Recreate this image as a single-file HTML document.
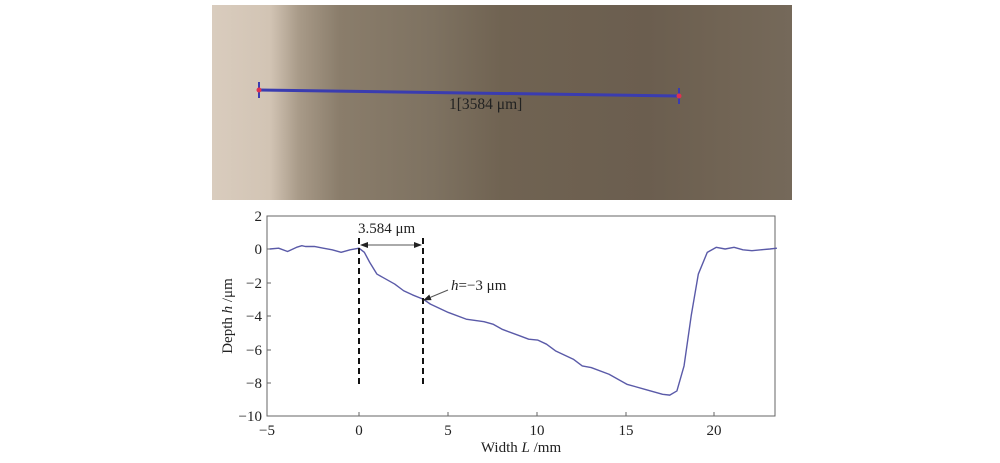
<!DOCTYPE html>
<html><head><style>
body{margin:0;background:#fff;}
svg text{font-family:"Liberation Serif",serif;fill:#222;}
</style></head><body>
<svg width="1000" height="458" xmlns="http://www.w3.org/2000/svg">
<defs>
<linearGradient id="g" x1="0" x2="1" y1="0" y2="0">
<stop offset="0" stop-color="#d9ccbe"/>
<stop offset="0.1" stop-color="#d2c4b4"/>
<stop offset="0.15" stop-color="#a89a88"/>
<stop offset="0.22" stop-color="#8a7d6b"/>
<stop offset="0.38" stop-color="#7e7261"/>
<stop offset="0.5" stop-color="#706352"/>
<stop offset="0.75" stop-color="#6b5e4f"/>
<stop offset="0.88" stop-color="#716454"/>
<stop offset="1" stop-color="#75695a"/>
</linearGradient>
<marker id="a" markerWidth="8" markerHeight="8" refX="7" refY="4" orient="auto"><path d="M0,1 L8,4 L0,7z" fill="#222"/></marker>
</defs>
<rect x="212" y="5" width="580" height="195" fill="url(#g)"/>
<line x1="259" y1="90" x2="679" y2="96" stroke="#3a3cb0" stroke-width="3"/>
<line x1="259" y1="82" x2="259" y2="98" stroke="#3a3cb0" stroke-width="2"/>
<line x1="679" y1="88" x2="679" y2="104" stroke="#3a3cb0" stroke-width="2"/>
<circle cx="259" cy="90" r="2.5" fill="#e03050"/><circle cx="679" cy="96" r="2.5" fill="#e03050"/>
<text x="449" y="109" font-size="15.5">1[3584 μm]</text>

<rect x="267" y="216" width="508" height="200" fill="none" stroke="#666" stroke-width="1"/>
<g stroke="#666">
<line x1="267" y1="249" x2="271" y2="249"/><line x1="267" y1="283" x2="271" y2="283"/><line x1="267" y1="316" x2="271" y2="316"/><line x1="267" y1="350" x2="271" y2="350"/><line x1="267" y1="383" x2="271" y2="383"/>
<line x1="359" y1="416" x2="359" y2="412"/><line x1="448" y1="416" x2="448" y2="412"/><line x1="537" y1="416" x2="537" y2="412"/><line x1="626" y1="416" x2="626" y2="412"/><line x1="714" y1="416" x2="714" y2="412"/>
</g>
<g font-size="15" text-anchor="end">
<text x="262" y="221">2</text><text x="262" y="254">0</text><text x="262" y="288">−2</text><text x="262" y="321">−4</text><text x="262" y="355">−6</text><text x="262" y="388">−8</text><text x="262" y="421">−10</text>
</g>
<g font-size="15" text-anchor="middle">
<text x="267" y="435">−5</text><text x="359" y="435">0</text><text x="448" y="435">5</text><text x="537" y="435">10</text><text x="626" y="435">15</text><text x="714" y="435">20</text>
<text x="521" y="452">Width <tspan font-style="italic">L</tspan> /mm</text>
<text transform="translate(232,316) rotate(-90)">Depth <tspan font-style="italic">h</tspan> /μm</text>
</g>
<polyline transform="translate(359,249) scale(17.86,-16.7)" vector-effect="non-scaling-stroke" fill="none" stroke="#5a5aa8" stroke-width="1.4" stroke-linejoin="round" points="-5,0 -4.5,0.05 -4,-0.15 -3.5,0.1 -3.2,0.2 -3,0.15 -2.5,0.15 -2,0.05 -1.5,-0.05 -1,-0.2 -0.5,-0.05 0,0.05 0.3,-0.2 0.6,-0.8 1,-1.5 1.5,-1.8 2,-2.1 2.5,-2.5 3,-2.75 3.584,-3 4,-3.3 5,-3.8 6,-4.2 7,-4.35 7.5,-4.5 8,-4.8 9,-5.2 9.5,-5.4 10,-5.45 10.5,-5.7 11,-6.1 12,-6.6 12.5,-7 13,-7.1 14,-7.5 15,-8.1 16,-8.4 17,-8.7 17.4,-8.75 17.8,-8.5 18.2,-7 18.6,-4 19,-1.5 19.5,-0.2 20,0.1 20.5,0 21,0.1 21.5,-0.05 22,-0.1 22.5,-0.05 23,0 23.4,0.05"/>
<g stroke="#111" stroke-width="2" stroke-dasharray="6,4">
<line x1="359" y1="238" x2="359" y2="385"/><line x1="423" y1="238" x2="423" y2="385"/>
</g>
<line x1="368" y1="245" x2="421" y2="245" stroke="#555" stroke-width="1" marker-end="url(#a)"/>
<line x1="414" y1="245" x2="361" y2="245" stroke="#555" stroke-width="1" marker-end="url(#a)"/>
<text x="358" y="233" font-size="15">3.584 μm</text>
<line x1="448" y1="290" x2="424" y2="300" stroke="#555" stroke-width="1" marker-end="url(#a)"/>
<text x="451" y="290" font-size="15"><tspan font-style="italic">h</tspan>=−3 μm</text>
</svg>
</body></html>
